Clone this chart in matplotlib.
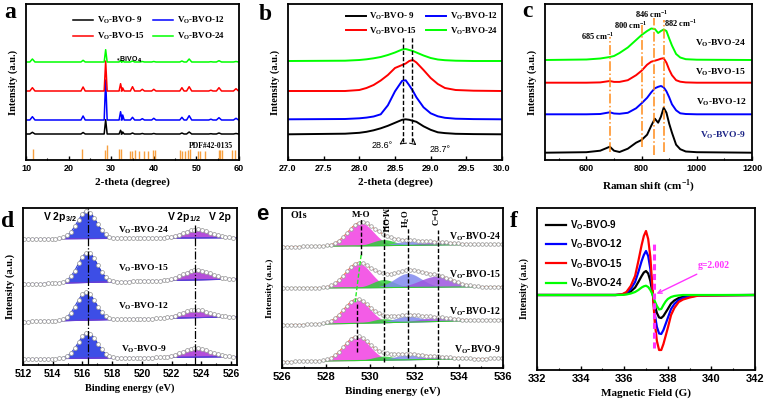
import numpy as np
import matplotlib
matplotlib.use("Agg")
import matplotlib.pyplot as plt
from matplotlib.ticker import MultipleLocator

# =============================================================================
# DATA (intensities in arbitrary units)
# =============================================================================

SAMPLES = ["9", "12", "15", "24"]
COLORS = ["#000000", "#0000ff", "#ff0000", "#00ff00"]
LABELS = [r"V$_\mathregular{O}$-BVO-9", r"V$_\mathregular{O}$-BVO-12",
          r"V$_\mathregular{O}$-BVO-15", r"V$_\mathregular{O}$-BVO-24"]
LEGEND_AB = [r"V$_\mathregular{O}$-BVO- 9", r"V$_\mathregular{O}$-BVO-12",
             r"V$_\mathregular{O}$-BVO-15", r"V$_\mathregular{O}$-BVO-24"]

# (a) XRD, peak list per sample
xrd_pos = [11.5, 23.4, 28.7, 32.2, 32.7, 35.0, 37.3, 40.0, 46.6, 48.3, 53.4, 55.3, 59.3]
xrd_hw = [0.6, 0.5, 0.35, 0.35, 0.35, 0.5, 0.5, 0.5, 0.5, 0.6, 0.5, 0.6, 0.6]
xrd_heights = [
    [1.7, 1.5, 14.3, 3.7, 2.0, 1.0, 0.5, 0.5, 1.0, 2.0, 0.3, 1.0, 0.5],
    [3.3, 4.0, 40.0, 8.3, 5.0, 2.7, 1.3, 1.7, 2.7, 4.3, 0.8, 2.3, 1.7],
    [3.3, 4.0, 30.0, 7.3, 3.0, 4.3, 1.7, 1.7, 3.3, 4.3, 0.8, 3.3, 2.3],
    [3.0, 1.7, 12.3, 1.7, 1.0, 1.0, 0.5, 0.5, 1.0, 3.0, 0.3, 1.3, 0.5],
]
xrd_offsets = [26, 40, 69, 98]
pdf_pos = [11.6, 23.25, 28.55, 28.9, 31.9, 32.3, 34.3, 34.8, 35.5, 36.5, 37.6, 38.6,
           39.8, 40.2, 46.1, 46.7, 47.4, 48.1, 48.6, 50.3, 50.8, 52.0, 55.2, 55.6,
           56.0, 58.3, 59.1]
pdf_int = [10, 10, 9, 14, 10, 10, 8, 8, 9, 8, 8, 8, 9, 9, 9, 8, 8, 9, 10, 8, 8, 8,
           9, 9, 9, 9, 9]

# (b) zoom of the main XRD reflection
b_theta = [27.0, 27.8, 28.0, 28.1, 28.2, 28.3, 28.4, 28.5, 28.6, 28.65, 28.7, 28.75,
           28.8, 28.9, 29.0, 29.1, 29.2, 29.35, 29.6, 30.0]
b_int = [
    [0, 0.6, 1.5, 2.5, 4, 6, 8.5, 11.5, 14.5, 15, 14.5, 13.5, 12.5, 8, 4.5, 2, 1.2, 0.5, 0.2, 0],
    [0, 0.3, 1, 1.7, 2.8, 5, 14, 28, 38.5, 39, 34, 28.5, 22, 12, 6, 3, 1.5, 0.6, 0.2, 0],
    [0, 0, 1, 3, 6, 10.5, 16, 23, 26, 27.5, 30, 31, 28.5, 21, 13, 7, 3, 1, 0.3, 0],
    [0, 0.3, 1, 1.7, 2.7, 4, 6, 8.5, 11.5, 12, 11, 10, 8.5, 5.5, 3, 1.5, 0.8, 0.3, 0, 0],
]
b_offsets = [25.7, 40.7, 69, 99]

# (c) Raman
raman_shift = [450, 600, 650, 685, 700, 720, 750, 780, 800, 820, 835, 848, 860, 870,
               880, 890, 900, 910, 925, 940, 960, 1000, 1200]
raman_int = [
    [0, 0.5, 2, 6, 2, 0.7, 4, 10, 12.7, 18, 27, 34, 30, 36, 45, 40, 29, 20, 8, 3.5, 1.2, 0.5, 0],
    [0, 0, 0.3, 2, 0.8, 0.5, 1.5, 6, 11, 16.5, 22, 26, 27.5, 28.3, 27, 23, 17, 10, 4, 1, 0.3, 0, 0],
    [0, 0, 0.3, 1.7, 0.8, 0.8, 2.5, 7.5, 12, 18, 21, 22, 23, 24, 24.5, 20, 13, 7.5, 2.5, 1, 0.3, 0, 0],
    [0, 0.5, 1.5, 3, 4, 7, 12.5, 20, 25, 29, 31.5, 31, 27, 29, 30.5, 29, 21.5, 14.5, 6, 2.5, 0.8, 0.3, 0],
]
raman_offsets = [7.3, 45.7, 77.3, 100]
raman_marks = [685, 800, 846, 882]

# (d) V 2p XPS fit components (center, height) per sample
d_bg_left = [6, 43.3, 81, 126]
d_bg_right = [8.3, 48.3, 86, 127.3]
d_p32 = [(516.35, 25.5), (516.25, 28), (516.35, 30), (516.3, 27.5)]
d_p12 = [(523.65, 9), (523.6, 8), (523.7, 10), (523.7, 8.5)]
d_sig = (0.65, 0.9)

# (e) O 1s XPS fit components per sample
e_bg_left = [6.3, 43, 79.7, 121.3]
e_bg_right = [9.7, 48, 81.3, 123.7]
e_centers = {"MO": [529.38, 529.38, 529.45, 529.55], "MOH": [530.6] * 4,
             "H2O": [531.7] * 4, "CO": [533.0] * 4}
e_heights = {"MO": [24, 24, 24.5, 23], "MOH": [4, 4, 8, 6],
             "H2O": [5, 6, 14, 4], "CO": [2.5, 4, 11, 3]}
e_sig = {"MO": 0.58, "MOH": 0.5, "H2O": 0.6, "CO": 0.75}
e_cols = {"MO": "#f23fe2", "MOH": "#2fcc3a", "H2O": "#8088ee", "CO": "#9c55e0"}

# (f) EPR
field = [332, 335.6, 335.9, 336.1, 336.3, 336.5, 336.65, 336.8, 336.9, 337.0, 337.1,
         337.2, 337.3, 337.4, 337.5, 337.6, 337.7, 337.8, 337.9, 338.0, 338.15, 338.3,
         338.5, 338.7, 339.0, 339.4, 342]
epr = [
    [0, 0, 0.3, 1.2, 3.5, 7.5, 13, 19, 22.5, 24, 21.5, 14, 2, -10, -18, -22.5, -23, -21,
     -17.5, -14, -8.5, -5.5, -3, -1.8, -1, -0.2, 0],
    [0, 0, 0.5, 2, 6, 13, 23, 34, 40, 44, 39, 26, 4, -19, -32, -38.5, -39, -35, -29, -23,
     -14, -9, -5, -3, -1.7, -0.4, 0],
    [0, 0, 0.7, 3, 9, 19, 34, 50, 59, 64, 56, 38, 6, -27, -46, -55, -55, -49, -41, -33,
     -20, -13, -7, -4.5, -2.5, -0.6, 0],
    [0, 0, 0.1, 0.5, 1.5, 3, 5, 7.5, 8.7, 9.3, 8, 5, 0.5, -6, -11, -14.5, -14, -10, -6.5,
     -4, -2, -1, -0.4, 0, 0, 0, 0],
]

# =============================================================================
# LAYOUT / STYLE
# =============================================================================

W, H = 764, 401
SERIF = "Liberation Serif"
SANS = "Liberation Sans"
plt.rcParams["font.family"] = SANS
plt.rcParams["font.weight"] = "bold"
plt.rcParams["axes.labelweight"] = "bold"

fig = plt.figure(figsize=(W / 100, H / 100), dpi=100)


def panel(l, t, r, b):
    return fig.add_axes([l / W, 1 - b / H, (r - l) / W, (b - t) / H])


def style(ax, xlim, ylim, major, minor, xlabel, xl_size=8, yl_size=7.5, tick_size=6.5):
    ax.set_xlim(*xlim)
    ax.set_ylim(*ylim)
    ax.xaxis.set_major_locator(MultipleLocator(major))
    if minor:
        ax.xaxis.set_minor_locator(MultipleLocator(minor))
    ax.tick_params(axis="x", which="both", direction="in", labelsize=tick_size, pad=3)
    ax.tick_params(axis="x", which="major", length=3, width=1)
    ax.tick_params(axis="x", which="minor", length=1.8, width=0.8)
    ax.set_yticks([])
    for s in ax.spines.values():
        s.set_linewidth(1.3)
    ax.set_xlabel(xlabel, family=SERIF, weight="bold", size=xl_size, labelpad=3)
    ax.set_ylabel("Intensity (a.u.)", family=SERIF, weight="bold", size=yl_size, labelpad=6)


def letter(x, y, s, family=SERIF, size=17):
    fig.text(x / W, 1 - y / H, s, family=family, weight="bold", size=size,
             ha="left", va="baseline")


def xrd_trace(heights, lo=10, hi=60):
    xs, ys = [lo], [0]
    for p, h, w in zip(xrd_pos, heights, xrd_hw):
        xs += [p - w, p, p + w]
        ys += [0, h, 0]
    xs.append(hi)
    ys.append(0)
    return np.array(xs), np.array(ys)


def gauss(x, c, h, s):
    return h * np.exp(-0.5 * ((x - c) / s) ** 2)


serif_leg = {"family": SERIF, "weight": "bold", "size": 6.5}
order = [0, 2, 1, 3]
circ = dict(ls="none", marker="o", mfc="white", mec="#9a9a9a", mew=0.55)

# ---------------- (a) ----------------
ax = panel(26, 4, 239, 160)
for i in range(4):
    xs, ys = xrd_trace(xrd_heights[i])
    ax.plot(xs, ys + xrd_offsets[i], color=COLORS[i], lw=1.1, label=LEGEND_AB[i])
ax.vlines(pdf_pos, 1.5, 1.5 + np.array(pdf_int), color="#f7a040", lw=1.0)
ax.text(58.6, 14, "PDF#42-0135", family=SERIF, size=5.5, ha="right", va="center")
ax.text(30.9, 100, r"$_*$BiVO$_4$", size=5, ha="left", va="center")
h, l = ax.get_legend_handles_labels()
ax.legend([h[k] for k in order], [l[k] for k in order], ncol=2, loc="upper left",
          bbox_to_anchor=(0.2, 0.96), frameon=False, prop=serif_leg, handlelength=2.2,
          columnspacing=1.0, labelspacing=0.5, borderpad=0, handletextpad=0.4)
style(ax, (10, 60), (0, 156), 10, 5, "2-theta (degree)", tick_size=6.5)
letter(4, 18, "a")

# ---------------- (b) ----------------
ax = panel(288, 4, 502, 160)
for i in range(4):
    ax.plot(b_theta, np.array(b_int[i]) + b_offsets[i], color=COLORS[i], lw=1.4,
            label=LEGEND_AB[i])
ax.vlines([28.615, 28.745], 18, 123, color="k", lw=1, linestyles=(0, (3, 1.5)))
ax.annotate("", xy=(28.53, 14), xytext=(28.615, 18),
            arrowprops=dict(arrowstyle="->", color="k", lw=0.7))
ax.annotate("", xy=(28.83, 13), xytext=(28.745, 18),
            arrowprops=dict(arrowstyle="->", color="k", lw=0.7))
ax.text(28.32, 15, "28.6°", size=6.5, weight="normal", ha="center", va="center")
ax.text(29.13, 10, "28.7°", size=6.5, weight="normal", ha="center", va="center")
h, l = ax.get_legend_handles_labels()
ax.legend([h[k] for k in order], [l[k] for k in order], ncol=2, loc="upper left",
          bbox_to_anchor=(0.25, 0.985), frameon=False, prop=serif_leg, handlelength=2.2,
          columnspacing=1.0, labelspacing=0.35, borderpad=0, handletextpad=0.4)
style(ax, (27, 30), (0, 156), 0.5, None, "2-theta (degree)", tick_size=6.5)
letter(259, 20, "b")

# ---------------- (c) ----------------
ax = panel(545, 4, 752, 160)
for i in range(4):
    ax.plot(raman_shift, np.array(raman_int[i]) + raman_offsets[i], color=COLORS[i], lw=1.4)
mark_top = [123.3, 135, 141.7, 140]
mark_bot = [8.3, 13.3, 5, 8.3]
for x, t, b in zip(raman_marks, mark_top, mark_bot):
    ax.plot([x, x], [b, t], color="#ff8c1a", lw=1.1, ls="-.")
for x, y, s in [(642, 123.5, "685"), (760, 135, "800"), (836, 146, "846"), (943, 136.7, "882")]:
    ax.text(x, y, s + r" cm$^{\mathregular{-1}}$", family=SERIF, size=6, ha="center", va="center")
lab_y = [25, 58, 88, 117]
lab_col = ["#1c2486", "k", "k", "k"]
for i in range(4):
    ax.text(1178, lab_y[i], LABELS[i], family=SERIF, size=6.8, color=lab_col[i],
            ha="right", va="center")
style(ax, (450, 1200), (0, 156), 200, 100, r"Raman shift (cm$^{\mathregular{-1}}$)",
      tick_size=6.5)
letter(522, 17, "c")

# ---------------- (d) ----------------
ax = panel(23, 208, 237, 365)
E = np.linspace(512, 526.4, 400)
Ec = np.arange(512.1, 526.4, 0.26)
for i in range(4):
    bg = np.interp(E, [512, 526.4], [d_bg_left[i], d_bg_right[i]])
    bgc = np.interp(Ec, [512, 526.4], [d_bg_left[i], d_bg_right[i]])
    c1, h1 = d_p32[i]
    c2, h2 = d_p12[i]
    g1 = gauss(E, c1, h1, d_sig[0])
    g2 = gauss(E, c2, h2, d_sig[1])
    ax.fill_between(E, bg, bg + g1, color="#3d4ee6", lw=0)
    ax.plot(E, bg + g1, color="#2233cc", lw=0.7)
    ax.fill_between(E, bg, bg + g2, color="#b54fd9", lw=0)
    ax.plot(E, bg + g2, color="#9530c0", lw=0.7)
    ax.plot(E, bg, color="#6040d8", lw=0.8)
    env = bgc + gauss(Ec, c1, h1, d_sig[0]) + gauss(Ec, c2, h2, d_sig[1])
    ax.plot(Ec, env, ms=2.8, **circ)
ax.plot([516.35, 516.35], [0, 157], color="k", lw=0.9, ls="-.")
ax.plot([523.55, 523.55], [0, 140], color="k", lw=0.9, ls="-.")
d_lab_y = [16, 58.3, 96.7, 135]
for i in range(4):
    ax.text(520.1, d_lab_y[i], LABELS[i], family=SERIF, size=6.8, ha="center", va="center")
ax.text(514.5, 148.3, r"V 2p$_{\mathregular{3/2}}$", size=7.5, ha="center", va="center")
ax.text(522.8, 148.3, r"V 2p$_{\mathregular{1/2}}$", size=7.5, ha="center", va="center")
ax.text(525.25, 148.3, "V 2p", size=7.5, ha="center", va="center")
style(ax, (512, 526.4), (0, 157), 2, 1, "Binding energy (eV)", xl_size=7.5, tick_size=7.5)
letter(1, 227, "d")

# ---------------- (e) ----------------
ax = panel(282, 208, 503, 368)
E = np.linspace(526, 536, 400)
Ec = np.arange(526.05, 536, 0.18)
for i in range(4):
    bg = np.interp(E, [526, 536], [e_bg_left[i], e_bg_right[i]])
    bgc = np.interp(Ec, [526, 536], [e_bg_left[i], e_bg_right[i]])
    env = bg.copy()
    envc = bgc.copy()
    for key in ["MO", "MOH", "H2O", "CO"]:
        g = gauss(E, e_centers[key][i], e_heights[key][i], e_sig[key])
        ax.fill_between(E, bg, bg + g, color=e_cols[key], alpha=0.85, lw=0)
        env = env + g
        envc = envc + gauss(Ec, e_centers[key][i], e_heights[key][i], e_sig[key])
    ax.plot(E, bg, color="#33cc33", lw=0.8)
    ax.plot(E, env, color="#ff5a36", lw=0.7)
    ax.plot(Ec, envc, ms=2.6, **circ)
ax.plot([529.58, 529.58], [113, 150], color="k", lw=1, ls=(0, (3, 1.5)))
ax.plot([529.58, 529.31], [113, 66], color="#22ee22", lw=1, ls=(0, (3, 1.5)))
ax.plot([529.38, 529.38], [16, 66], color="k", lw=1, ls=(0, (3, 1.5)))
ax.plot([530.6, 530.6], [6, 150], color="k", lw=1, ls=(0, (3, 1.5)))
ax.plot([531.68, 531.68], [10, 140], color="k", lw=1, ls=(0, (3, 1.5)))
ax.plot([533.07, 533.07], [3, 138], color="k", lw=1, ls=(0, (3, 1.5)))
ax.text(526.4, 153, "O1s", family=SERIF, size=7.2, ha="left", va="center")
ax.text(529.6, 153, "M-O", family=SERIF, size=6.5, ha="center", va="center")
ax.text(530.6, 147.5, "M-OH", family=SERIF, size=6.2, rotation=270, ha="center", va="center")
ax.text(531.63, 149, r"H$_\mathregular{2}$O", family=SERIF, size=6.2, rotation=90,
        ha="center", va="center")
ax.text(533.0, 152, "C=O", family=SERIF, size=6.2, rotation=90, ha="center", va="center")
e_lab_y = [18, 56.3, 93, 131.3]
for i in range(4):
    ax.text(535.9, e_lab_y[i], LABELS[i], family=SERIF, size=7, ha="right", va="center")
style(ax, (526, 536), (0, 160), 2, 1, "Binding energy (eV)", xl_size=8, yl_size=6.8,
      tick_size=8)
letter(256, 220, "e", family=SANS, size=16)

# ---------------- (f) ----------------
ax = panel(537, 208, 755, 370)
for i in range(4):
    ax.plot(field, epr[i], color=COLORS[i], lw=1.6, label=LABELS[i])
ax.plot([337.37, 337.37], [-53.3, 54], color="#ff33ff", lw=2.2, ls=(0, (2, 1.2)))
ax.annotate("g=2.002", xy=(337.37, 0), xytext=(340.13, 29.3), family=SERIF, size=7,
            color="#ff33ff", ha="center", va="center",
            arrowprops=dict(arrowstyle="->", color="#ff33ff", lw=1))
ax.legend(loc="upper left", bbox_to_anchor=(0.02, 0.965), frameon=False,
          prop={"family": SANS, "weight": "bold", "size": 7}, handlelength=2.0,
          labelspacing=0.55, borderpad=0, handletextpad=0.4)
style(ax, (332, 342), (-75, 87), 2, 1, "Magnetic Field (G)", xl_size=8, yl_size=7,
      tick_size=8)
letter(510, 227, "f")

fig.savefig("out.png", dpi=100)
